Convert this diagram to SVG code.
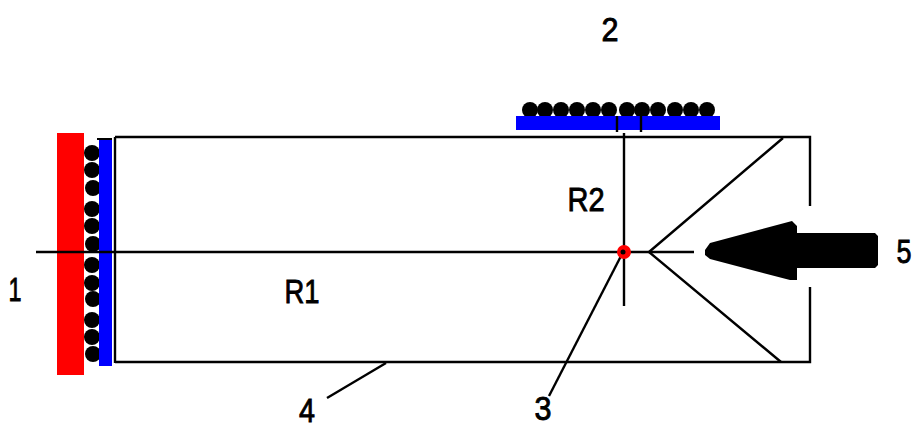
<svg xmlns="http://www.w3.org/2000/svg" width="915" height="430" viewBox="0 0 915 430">
<defs>
<style>
.l{fill:none;stroke:#000;stroke-width:2.4}
.t{font-family:"Liberation Sans",Arial,sans-serif;font-size:34px;fill:#000;stroke:#000;stroke-width:.9;text-anchor:middle}
.d{fill:#000}
</style>
<circle id="dot" r="8" class="d"/>
</defs>
<rect width="915" height="430" fill="#fff"/>
<g id="source-1">
<rect x="57" y="133" width="27" height="242" fill="#f00"/>
<g>
<use href="#dot" x="92" y="153"/><use href="#dot" x="92" y="170"/><use href="#dot" x="93" y="188"/><use href="#dot" x="92" y="209"/><use href="#dot" x="92" y="226"/><use href="#dot" x="93" y="244"/><use href="#dot" x="92" y="265"/><use href="#dot" x="92" y="283"/><use href="#dot" x="93" y="299"/><use href="#dot" x="92" y="320"/><use href="#dot" x="92" y="337"/><use href="#dot" x="93" y="354"/>
</g>
<rect x="99" y="140" width="13" height="226" fill="#00f"/>
<rect x="97" y="138" width="15" height="2" fill="#000"/>
</g>
<g id="detector-2">
<g>
<use href="#dot" x="530" y="110"/><use href="#dot" x="545" y="110"/><use href="#dot" x="561" y="110"/><use href="#dot" x="577" y="110"/><use href="#dot" x="593" y="110"/><use href="#dot" x="609" y="110"/><use href="#dot" x="627" y="110"/><use href="#dot" x="642" y="110"/><use href="#dot" x="658" y="110"/><use href="#dot" x="675" y="110"/><use href="#dot" x="691" y="110"/><use href="#dot" x="707" y="110"/>
</g>
<rect x="516" y="116" width="204" height="14" fill="#00f"/>
<path class="l" d="M617 116V132M641 116V132"/>
</g>
<g id="connectors">
<path class="l" d="M115 137V363M115 137H810V206M115 362H810V287"/>
<path class="l" d="M36 252H694"/>
<path class="l" d="M624 133V306"/>
<path class="l" d="M649 252L783 138M649 252L781 362"/>
<path class="l" d="M621 256L549 396"/>
<path class="l" d="M386 363L327 398"/>
</g>
<g id="arrow-5">
<path class="d" d="M705 250L710 243L792 221L797 226V233H875L878 236V265L875 268H797V280H790L710 259L705 255Z"/>
</g>
<g id="point-3"><circle cx="624" cy="252" r="7" fill="#f00"/><circle cx="623" cy="252" r="2.5" fill="#000"/></g>
<g id="labels">
<text class="t" x="610" y="41" textLength="17" lengthAdjust="spacingAndGlyphs">2</text>
<text class="t" x="586" y="211" textLength="37" lengthAdjust="spacingAndGlyphs">R2</text>
<text class="t" x="302" y="303" textLength="35" lengthAdjust="spacingAndGlyphs">R1</text>
<text class="t" x="15" y="301" textLength="13" lengthAdjust="spacingAndGlyphs">1</text>
<text class="t" x="904" y="263" textLength="15" lengthAdjust="spacingAndGlyphs">5</text>
<text class="t" x="307" y="422" textLength="16" lengthAdjust="spacingAndGlyphs">4</text>
<text class="t" x="543" y="420" textLength="17" lengthAdjust="spacingAndGlyphs">3</text>
</g>
</svg>
